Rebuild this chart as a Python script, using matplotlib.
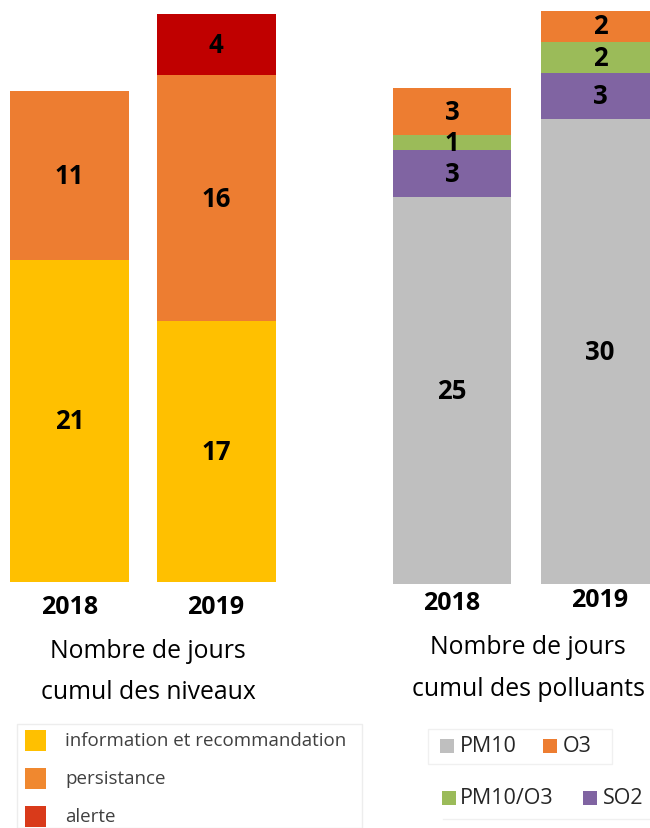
import matplotlib
matplotlib.use("Agg")
import matplotlib.pyplot as plt
from matplotlib.patches import Rectangle

plt.rcParams["font.family"] = ["Open Sans", "DejaVu Sans"]

# ---- data ----
years = ["2018", "2019"]
niveau_labels = ["information et recommandation", "persistance", "alerte"]
info = [21, 17]
persistance = [11, 16]
alerte = [0, 4]

polluant_labels = ["PM10", "O3", "PM10/O3", "SO2"]
pm10 = [25, 30]
so2 = [3, 3]
pm10_o3 = [1, 2]
o3 = [3, 2]

# ---- styling ----
C_INFO, C_PERS, C_ALERT = "#FFC000", "#ED7D31", "#C00000"
C_PM10, C_O3, C_MIX, C_SO2 = "#BFBFBF", "#ED7D31", "#9BBB59", "#8064A2"
LEG_NIV = ["#FFC000", "#F0882F", "#D93A1A"]

W, H = 650, 829
fig = plt.figure(figsize=(W / 100, H / 100), dpi=100)


def px_axes(left, top, width, height):
    return fig.add_axes([left / W, 1 - (top + height) / H, width / W, height / H])


def stack(ax, series, colors, width):
    x = list(range(len(years)))
    bottom = [0] * len(years)
    for vals, col in zip(series, colors):
        ax.bar(x, vals, width=width, bottom=bottom, color=col, edgecolor="none")
        for i, v in enumerate(vals):
            if v > 0:
                ax.text(i, bottom[i] + v / 2, str(v), ha="center", va="center",
                        fontsize=18.5, fontweight="bold", color="black")
        bottom = [b + v for b, v in zip(bottom, vals)]


# ---- left: levels ----
axL = px_axes(0, 0, 300, 583)
stack(axL, [info, persistance, alerte], [C_INFO, C_PERS, C_ALERT], 119 / 146.5)
axL.set_xlim(-69.5 / 146.5, 230.5 / 146.5)
axL.set_ylim(0, 583 / 15.35)
axL.axis("off")
for i, yr in enumerate(years):
    axL.text(i, (583 - 608) / 583, yr, transform=axL.get_xaxis_transform(),
             ha="center", va="center", fontsize=18, fontweight="bold")

# ---- right: pollutants ----
axR = px_axes(380, 0, 270, 585)
stack(axR, [pm10, so2, pm10_o3, o3], [C_PM10, C_SO2, C_MIX, C_O3], 118 / 148)
axR.set_xlim(-72 / 148, 198 / 148)
axR.set_ylim(0, 585 / 15.5)
axR.axis("off")
for i, (yr, ypx) in enumerate(zip(years, [604, 601])):
    axR.text(i, (585 - ypx) / 585, yr, transform=axR.get_xaxis_transform(),
             ha="center", va="center", fontsize=18, fontweight="bold")

# ---- captions ----
for cx, lines in [(148, [(652, "Nombre de jours"), (693, "cumul des niveaux")]),
                  (528, [(648, "Nombre de jours"), (690, "cumul des polluants")])]:
    for ypx, txt in lines:
        fig.text(cx / W, 1 - ypx / H, txt, ha="center", va="center", fontsize=17.8)

# ---- legend: levels ----
fig.patches.append(Rectangle((17 / W, 0), (362 - 17) / W, 1 - 725 / H,
                             transform=fig.transFigure, facecolor="white",
                             edgecolor="#EDEDED", linewidth=1))
for lab, col, ypx in zip(niveau_labels, LEG_NIV, [741, 779, 817]):
    fig.patches.append(Rectangle((25 / W, 1 - (ypx + 10.5) / H), 21 / W, 21 / H,
                                 transform=fig.transFigure, facecolor=col,
                                 edgecolor="none"))
    fig.text(65 / W, 1 - ypx / H, lab, ha="left", va="center",
             fontsize=13.5, color="#404040")

# ---- legend: pollutants ----
fig.patches.append(Rectangle((428 / W, 1 - 765 / H), (612 - 428) / W, 35 / H,
                             transform=fig.transFigure, facecolor="none",
                             edgecolor="#F0F0F0", linewidth=1))
fig.add_artist(plt.Line2D([443 / W, 1], [1 - 820 / H] * 2, color="#F0F0F0", lw=1))
leg_pol = [("PM10", C_PM10, 440, 460, 747),
           ("O3", C_O3, 543, 563, 747),
           ("PM10/O3", C_MIX, 442, 460, 799),
           ("SO2", C_SO2, 583, 603, 799)]
for lab, col, sx, tx, ypx in leg_pol:
    fig.patches.append(Rectangle((sx / W, 1 - (ypx + 7) / H), 14 / W, 14 / H,
                                 transform=fig.transFigure, facecolor=col,
                                 edgecolor="none"))
    fig.text(tx / W, 1 - ypx / H, lab, ha="left", va="center",
             fontsize=15.5, color="#262626")

fig.savefig("out.png", dpi=100)
